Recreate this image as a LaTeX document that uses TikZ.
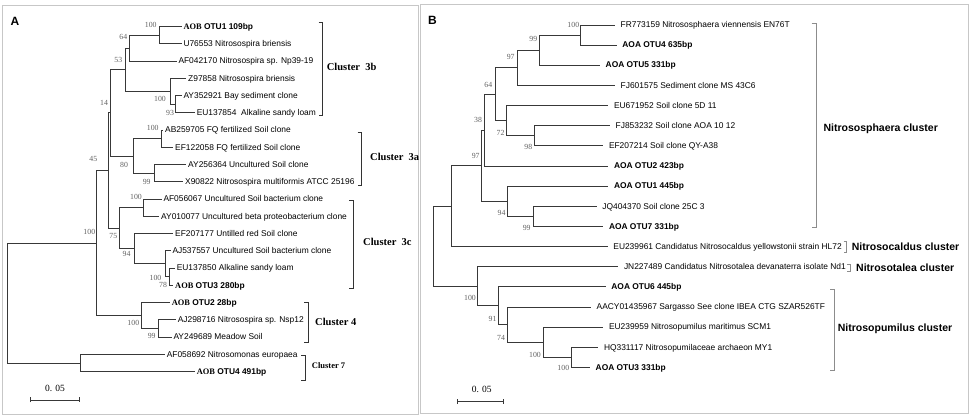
\documentclass[tikz,border=0pt]{standalone}
\usepackage{fontspec}
\setmainfont{Liberation Serif}
\setsansfont{Liberation Sans}
\usetikzlibrary{positioning,arrows.meta}

\newcommand{\aob}[1]{\textbf{\rmfamily AOB} \textbf{#1}}

\begin{document}
\begin{tikzpicture}[x=1pt,y=-1pt,
    tree/.style={draw=black!78, line width=0.9pt},
    leafA/.style={anchor=west, inner xsep=1.6pt, inner ysep=0pt, font=\sffamily\fontsize{8.4}{9}\selectfont, text height=5.8pt, text depth=0.4pt},
    leafB/.style={leafA, inner xsep=5.5pt},
    boot/.style={inner sep=0pt, text=black!62, font=\rmfamily\fontsize{7.8}{8}\selectfont},
    clusA/.style={anchor=west, inner sep=0pt, font=\rmfamily\bfseries\fontsize{10.5}{11}\selectfont},
    clusB/.style={anchor=west, inner sep=0pt, font=\sffamily\bfseries\fontsize{10.5}{11}\selectfont},
    brkA/.style={draw=black!80, line width=0.7pt},
    brkB/.style={draw=black!45, line width=0.8pt},
    frame/.style={draw=black!22, line width=1pt},
    panel/.style={inner sep=0pt, font=\sffamily\bfseries\fontsize{12}{13}\selectfont},
    scalebar/.style={tree, {Bar[width=5pt]}-{Bar[width=5pt]}},
    scaletext/.style={inner sep=0pt, font=\rmfamily\fontsize{9.5}{10}\selectfont}]
    \useasboundingbox (0,0) rectangle (970,419);

    % Panel frames
    \draw[frame] (2.5,6) rectangle (418.5,415);
    \draw[frame] (420.7,5) rectangle (968,413.3);
    \node[panel] (pA) at (15,21) {A};
    \node[panel] (pB) at (432.5,20.5) {B};

    % ---------- Panel A: leaves ----------
    \node[leafA] (a1) at (181.7,26.7) {\aob{OTU1 109bp}};
    \node[leafA] (a2) at (181.7,43.95) {U76553 Nitrosospira briensis};
    \node[leafA] (a3) at (176.7,61.2) {AF042170 Nitrosospira sp. Np39-19};
    \node[leafA] (a4) at (186.4,78.45) {Z97858 Nitrosospira briensis};
    \node[leafA] (a5) at (181.7,95.7) {AY352921 Bay sediment clone};
    \node[leafA] (a6) at (195,112.95) {EU137854\ \ Alkaline sandy loam};
    \node[leafA] (a7) at (163.4,130.2) {AB259705 FQ fertilized Soil clone};
    \node[leafA] (a8) at (173.4,147.45) {EF122058 FQ fertilized Soil clone};
    \node[leafA] (a9) at (186.4,164.7) {AY256364 Uncultured Soil clone};
    \node[leafA] (a10) at (183.4,181.95) {X90822 Nitrosospira multiformis ATCC 25196};
    \node[leafA] (a11) at (161.7,199.2) {AF056067 Uncultured Soil bacterium clone};
    \node[leafA] (a12) at (159.4,216.45) {AY010077 Uncultured beta proteobacterium clone};
    \node[leafA] (a13) at (173.4,233.7) {EF207177 Untilled red Soil clone};
    \node[leafA] (a14) at (170.7,250.95) {AJ537557 Uncultured Soil bacterium clone};
    \node[leafA] (a15) at (175,268.2) {EU137850 Alkaline sandy loam};
    \node[leafA] (a16) at (173.4,285.45) {\aob{OTU3 280bp}};
    \node[leafA] (a17) at (170,302.7) {\aob{OTU2 28bp}};
    \node[leafA] (a18) at (176,319.95) {AJ298716 Nitrosospira sp. Nsp12};
    \node[leafA] (a19) at (171.7,337.2) {AY249689 Meadow Soil};
    \node[leafA] (a20) at (165,354.45) {AF058692 Nitrosomonas europaea};
    \node[leafA] (a21) at (195,371.7) {\aob{OTU4 491bp}};

    % Panel A: inner nodes
    \coordinate (iA1) at (159,35.33);
    \coordinate (iA2) at (129.3,48.26);
    \coordinate (iA3) at (170,91.39);
    \coordinate (iA4) at (175,104.33);
    \coordinate (iA5) at (125,69.82);
    \coordinate (iA6) at (161.7,138.83);
    \coordinate (iA7) at (154,173.33);
    \coordinate (iA8) at (133.3,156.08);
    \coordinate (iA9) at (110.7,112.95);
    \coordinate (iA10) at (143.3,207.83);
    \coordinate (iA11) at (134.3,248.8);
    \coordinate (iA12) at (165.5,263.89);
    \coordinate (iA13) at (169.8,276.83);
    \coordinate (iA14) at (119.3,228.3);
    \coordinate (iA15) at (108.8,170.6);
    \coordinate (iA16) at (141.7,315.6);
    \coordinate (iA17) at (158.3,328.58);
    \coordinate (iA18) at (96.7,243.1);
    \coordinate (iA19) at (80,363.08);
    \coordinate (rootA) at (7.3,303.1);

    % Panel A: branches
    \draw[tree] (iA1) |- (a1.west) (iA1) |- (a2.west);
    \draw[tree] (iA2) |- (iA1) (iA2) |- (a3.west);
    \draw[tree] (iA4) |- (a5.west) (iA4) |- (a6.west);
    \draw[tree] (iA3) |- (a4.west) (iA3) |- (iA4);
    \draw[tree] (iA5) |- (iA2) (iA5) |- (iA3);
    \draw[tree] (iA6) |- (a7.west) (iA6) |- (a8.west);
    \draw[tree] (iA7) |- (a9.west) (iA7) |- (a10.west);
    \draw[tree] (iA8) |- (iA6) (iA8) |- (iA7);
    \draw[tree] (iA9) |- (iA5) (iA9) |- (iA8);
    \draw[tree] (iA10) |- (a11.west) (iA10) |- (a12.west);
    \draw[tree] (iA13) |- (a15.west) (iA13) |- (a16.west);
    \draw[tree] (iA12) |- (a14.west) (iA12) |- (iA13);
    \draw[tree] (iA11) |- (a13.west) (iA11) |- (iA12);
    \draw[tree] (iA14) |- (iA10) (iA14) |- (iA11);
    \draw[tree] (iA15) |- (iA9) (iA15) |- (iA14);
    \draw[tree] (iA17) |- (a18.west) (iA17) |- (a19.west);
    \draw[tree] (iA16) |- (a17.west) (iA16) |- (iA17);
    \draw[tree] (iA18) |- (iA15) (iA18) |- (iA16);
    \draw[tree] (iA19) |- (a20.west) (iA19) |- (a21.west);
    \draw[tree] (rootA) |- (iA18) (rootA) |- (iA19);

    % Panel A: bootstrap values
    \node[boot] (bA1) at (150.7,25) {100};
    \node[boot] (bA2) at (123.3,37.3) {64};
    \node[boot] (bA5) at (118.3,60) {53};
    \node[boot] (bA3) at (160,99.3) {100};
    \node[boot] (bA4) at (170,112.7) {93};
    \node[boot] (bA9) at (104,103.3) {14};
    \node[boot] (bA6) at (152.7,128.3) {100};
    \node[boot] (bA8) at (124,165) {80};
    \node[boot] (bA7) at (146.7,181.7) {99};
    \node[boot] (bA15) at (93.3,159.3) {45};
    \node[boot] (bA10) at (136,196.7) {100};
    \node[boot] (bA18) at (89.3,231.7) {100};
    \node[boot] (bA14) at (113.3,236) {75};
    \node[boot] (bA11) at (126.5,254.3) {94};
    \node[boot] (bA12) at (155.5,278.3) {100};
    \node[boot] (bA13) at (163,285) {78};
    \node[boot] (bA16) at (133.3,322.7) {100};
    \node[boot] (bA17) at (151.7,336) {99};

    % Panel A: clusters
    \draw[brkA] (318.7,22.7) -| (322.7,115) -- ++(-4,0);
    \node[clusA] (c3b) at (326.7,66.7) {Cluster\ \ 3b};
    \draw[brkA] (357.7,132.3) -| (361.7,185) -- ++(-4,0);
    \node[clusA] (c3a) at (370,156.7) {Cluster\ \ 3a};
    \draw[brkA] (349,200) -| (353,288.3) -- ++(-4,0);
    \node[clusA] (c3c) at (363,241.7) {Cluster\ \ 3c};
    \draw[brkA] (304.3,302.7) -| (308.3,342.7) -- ++(-4,0);
    \node[clusA] (c4) at (315,321.7) {Cluster 4};
    \draw[brkA] (301,355) -| (305,380) -- ++(-4,0);
    \node[clusA, font=\rmfamily\bfseries\fontsize{8.5}{9}\selectfont] (c7) at (311.7,366) {Cluster 7};

    % Panel A: scale
    \coordinate (sa1) at (30,400);
    \coordinate (sa2) at (80,400);
    \draw[scalebar] (sa1) -- (sa2);
    \node[scaletext] (sta) at (55,388.3) {0. 05};

    % ---------- Panel B: leaves ----------
    \node[leafB] (b1) at (615,25) {FR773159 Nitrososphaera viennensis EN76T};
    \node[leafB] (b2) at (616.7,45.15) {\textbf{AOA OTU4 635bp}};
    \node[leafB] (b3) at (600,65.3) {\textbf{AOA OTU5 331bp}};
    \node[leafB] (b4) at (615,85.45) {FJ601575 Sediment clone MS 43C6};
    \node[leafB] (b5) at (608.3,105.6) {EU671952 Soil clone 5D 11};
    \node[leafB] (b6) at (610,125.75) {FJ853232 Soil clone AOA 10 12};
    \node[leafB] (b7) at (603.3,145.9) {EF207214 Soil clone QY-A38};
    \node[leafB] (b8) at (608.3,166.05) {\textbf{AOA OTU2 423bp}};
    \node[leafB] (b9) at (608.3,186.2) {\textbf{AOA OTU1 445bp}};
    \node[leafB] (b10) at (596.7,206.35) {JQ404370 Soil clone 25C 3};
    \node[leafB] (b11) at (603.3,226.5) {\textbf{AOA OTU7 331bp}};
    \node[leafB] (b12) at (607.7,246.65) {EU239961 Candidatus Nitrosocaldus yellowstonii strain HL72};
    \node[leafB] (b13) at (618.3,266.8) {JN227489 Candidatus Nitrosotalea devanaterra isolate Nd1};
    \node[leafB] (b14) at (605.7,286.95) {\textbf{AOA OTU6 445bp}};
    \node[leafB] (b15) at (591,307.1) {AACY01435967 Sargasso See clone IBEA CTG SZAR526TF};
    \node[leafB] (b16) at (603.3,327.25) {EU239959 Nitrosopumilus maritimus SCM1};
    \node[leafB] (b17) at (598.3,347.4) {HQ331117 Nitrosopumilaceae archaeon MY1};
    \node[leafB] (b18) at (590,367.55) {\textbf{AOA OTU3 331bp}};

    % Panel B: inner nodes
    \coordinate (iB1) at (580.5,35.08);
    \coordinate (iB2) at (539.5,50.19);
    \coordinate (iB3) at (517.3,67.82);
    \coordinate (iB4) at (506.3,120.71);
    \coordinate (iB5) at (534.3,135.83);
    \coordinate (iB6) at (495,94.27);
    \coordinate (iB7) at (484.3,130.16);
    \coordinate (iB8) at (507.7,201.31);
    \coordinate (iB9) at (533.3,216.43);
    \coordinate (iB10) at (481.7,165.74);
    \coordinate (iB11) at (451.7,206.2);
    \coordinate (iB12) at (477.3,286.32);
    \coordinate (iB13) at (498.3,305.84);
    \coordinate (iB14) at (507.3,324.73);
    \coordinate (iB15) at (543.3,342.36);
    \coordinate (iB16) at (571,357.48);
    \coordinate (rootB) at (433.3,246.26);

    % Panel B: branches
    \draw[tree] (iB1) |- (b1.west) (iB1) |- (b2.west);
    \draw[tree] (iB2) |- (iB1) (iB2) |- (b3.west);
    \draw[tree] (iB3) |- (iB2) (iB3) |- (b4.west);
    \draw[tree] (iB5) |- (b6.west) (iB5) |- (b7.west);
    \draw[tree] (iB4) |- (b5.west) (iB4) |- (iB5);
    \draw[tree] (iB6) |- (iB3) (iB6) |- (iB4);
    \draw[tree] (iB7) |- (iB6) (iB7) |- (b8.west);
    \draw[tree] (iB9) |- (b10.west) (iB9) |- (b11.west);
    \draw[tree] (iB8) |- (b9.west) (iB8) |- (iB9);
    \draw[tree] (iB10) |- (iB7) (iB10) |- (iB8);
    \draw[tree] (iB11) |- (iB10) (iB11) |- (b12.west);
    \draw[tree] (iB16) |- (b17.west) (iB16) |- (b18.west);
    \draw[tree] (iB15) |- (b16.west) (iB15) |- (iB16);
    \draw[tree] (iB14) |- (b15.west) (iB14) |- (iB15);
    \draw[tree] (iB13) |- (b14.west) (iB13) |- (iB14);
    \draw[tree] (iB12) |- (b13.west) (iB12) |- (iB13);
    \draw[tree] (rootB) |- (iB11) (rootB) |- (iB12);

    % Panel B: bootstrap values
    \node[boot] (bB1) at (573.3,25) {100};
    \node[boot] (bB2) at (533.3,39.3) {99};
    \node[boot] (bB3) at (510.7,57.3) {97};
    \node[boot] (bB6) at (488.3,85) {64};
    \node[boot] (bB7) at (478,120.3) {38};
    \node[boot] (bB4) at (500.5,132.7) {72};
    \node[boot] (bB5) at (528.3,147.3) {98};
    \node[boot] (bB10) at (475.7,155.7) {97};
    \node[boot] (bB8) at (501.5,213.3) {94};
    \node[boot] (bB9) at (526.7,228.3) {99};
    \node[boot] (bB12) at (470,298.3) {100};
    \node[boot] (bB13) at (492.5,318.5) {91};
    \node[boot] (bB14) at (501,337.7) {74};
    \node[boot] (bB15) at (535,354.5) {100};
    \node[boot] (bB16) at (563.3,368.3) {100};

    % Panel B: clusters
    \draw[brkB] (811.7,23.3) -| (816.7,227.3) -- ++(-5,0);
    \node[clusB] (cNsph) at (823.3,128.3) {Nitrososphaera cluster};
    \draw[brkB] (843.7,241.7) -| (846.7,252.7) -- ++(-3,0);
    \node[clusB] (cNcal) at (851.7,246.7) {Nitrosocaldus cluster};
    \draw[brkB] (847,264) -| (850,271.7) -- ++(-3,0);
    \node[clusB] (cNtal) at (856,267.3) {Nitrosotalea cluster};
    \draw[brkB] (830.3,289.3) -| (834.3,370) -- ++(-4,0);
    \node[clusB] (cNpum) at (837.7,328.3) {Nitrosopumilus cluster};

    % Panel B: scale
    \coordinate (sb1) at (456.7,401.7);
    \coordinate (sb2) at (504,401.7);
    \draw[scalebar] (sb1) -- (sb2);
    \node[scaletext] (stb) at (481.7,389.3) {0. 05};
\end{tikzpicture}
\end{document}
